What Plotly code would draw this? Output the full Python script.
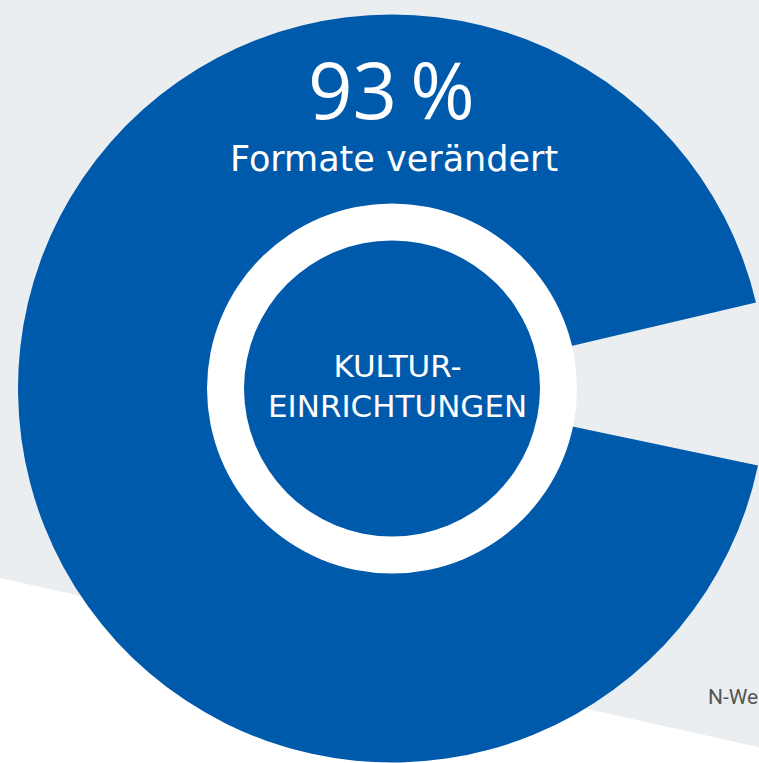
import plotly.graph_objects as go

# ---- data ----
labels = ["Formate verändert", "nicht verändert"]
values = [93, 7]
headline = "93\u2009%"
subtitle = "Formate verändert"
center_label = "KULTUR-<br>EINRICHTUNGEN"
note = "N-We"

# ---- layout constants (pixels) ----
W, H = 784, 777
CX, CY = 392, 388.5
R = 374
BLUE = "#005aab"
BG = "#ebeef0"


def px(x):
    return x / W


def py(y):
    return 1 - y / H


fig = go.Figure()
fig.add_trace(go.Pie(
    labels=labels,
    values=values,
    sort=False,
    direction="counterclockwise",
    rotation=101.9,
    hole=0.49,
    textinfo="none",
    hoverinfo="skip",
    showlegend=False,
    marker=dict(colors=[BLUE, "rgba(0,0,0,0)"], line=dict(width=0)),
    domain=dict(x=[px(CX - R), px(CX + R)], y=[py(CY + R), py(CY - R)]),
))

shapes = [
    dict(type="path", xref="paper", yref="paper", layer="below",
         path=f"M 0 {py(578)} L 1 {py(578 + 0.223 * W)} L 1 0 L 0 0 Z",
         fillcolor="white", line=dict(width=0)),
    dict(type="circle", xref="paper", yref="paper",
         x0=px(CX - 185), x1=px(CX + 185), y0=py(CY + 185), y1=py(CY - 185),
         fillcolor="white", line=dict(width=0)),
    dict(type="circle", xref="paper", yref="paper",
         x0=px(CX - 148), x1=px(CX + 148), y0=py(CY + 148), y1=py(CY - 148),
         fillcolor=BLUE, line=dict(width=0)),
]

annotations = [
    dict(text=headline, x=px(391), y=py(89), xref="paper", yref="paper",
         showarrow=False, xanchor="center", yanchor="middle",
         font=dict(family="Open Sans", size=78, color="white")),
    dict(text=subtitle, x=px(394), y=py(159), xref="paper", yref="paper",
         showarrow=False, xanchor="center", yanchor="middle",
         font=dict(family="DejaVu Sans", size=35, color="white")),
    dict(text=center_label, x=px(397), y=py(386), xref="paper", yref="paper",
         showarrow=False, xanchor="center", yanchor="middle",
         font=dict(family="DejaVu Sans", size=31, color="white")),
    dict(text=note, x=px(706), y=py(697), xref="paper", yref="paper",
         showarrow=False, xanchor="left", yanchor="middle",
         font=dict(family="Roboto", size=21, color="#555555")),
]

fig.update_layout(
    width=W, height=H,
    margin=dict(l=0, r=0, t=0, b=0),
    paper_bgcolor=BG, plot_bgcolor=BG,
    shapes=shapes, annotations=annotations,
)

fig.write_html(
    "out.html",
    config=dict(displayModeBar=False),
    post_script="document.body.style.margin='0';document.body.style.overflow='hidden';",
)
